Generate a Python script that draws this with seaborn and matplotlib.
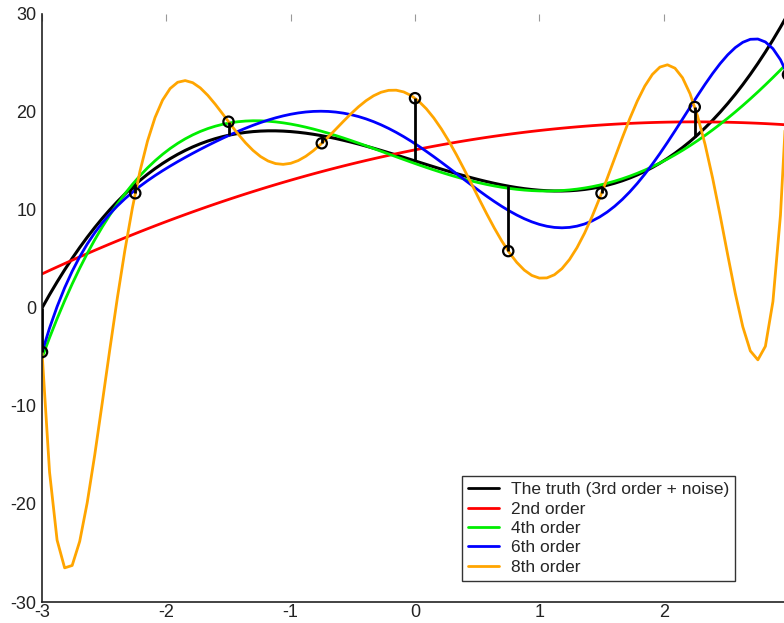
import matplotlib
matplotlib.use("Agg")
import matplotlib.pyplot as plt
import numpy as np
import pandas as pd
import seaborn as sns

# --- values ---
x_pts = [-3.0, -2.25, -1.5, -0.75, 0.0, 0.75, 1.5, 2.25, 3.0]
y_noisy = [-4.5, 11.7, 19.0, 16.8, 21.4, 5.8, 11.7, 20.5, 23.8]      # observed samples
y_truth = [0.0, 12.6, 17.6, 17.6, 15.0, 12.4, 12.4, 17.4, 30.0]      # underlying cubic at the samples

fit_orders = [2, 4, 6, 8]
fit_labels = ["2nd order", "4th order", "6th order", "8th order"]
fit_colors = ["#ff0000", "#00ee00", "#0000ff", "#ffa500"]

x_ticks = [-3, -2, -1, 0, 1, 2, 3]
y_ticks = [-30, -20, -10, 0, 10, 20, 30]

df = pd.DataFrame({"x": x_pts, "y": y_noisy, "truth": y_truth})

sns.set_theme(style="white")
plt.rcParams["font.family"] = ["Liberation Sans", "DejaVu Sans"]
plt.rcParams["axes.unicode_minus"] = False

fig = plt.figure(figsize=(7.84, 6.23), dpi=100)
ax = fig.add_axes([0.0536, 0.0337, 0.9515, 0.944])

handles = []
# truth curve (3rd order through the true values)
sns.regplot(data=df, x="x", y="truth", order=3, ci=None, scatter=False, ax=ax,
            line_kws={"color": "black", "lw": 2.2})
ax.lines[-1].set_label("The truth (3rd order + noise)")
handles.append(ax.lines[-1])

# polynomial fits to the noisy samples
for k, lab, col in zip(fit_orders, fit_labels, fit_colors):
    sns.regplot(data=df, x="x", y="y", order=k, ci=None, scatter=False, ax=ax,
                line_kws={"color": col, "lw": 2.0})
    ax.lines[-1].set_label(lab)
    handles.append(ax.lines[-1])

# residual sticks and sample markers
ax.vlines(df["x"], df["truth"], df["y"], colors="black", lw=2.0, zorder=4)
sns.scatterplot(data=df, x="x", y="y", ax=ax, marker="o", s=55,
                facecolor="none", edgecolor="black", linewidth=1.6, zorder=5, legend=False)

ax.set_xlim(-3, 3)
ax.set_ylim(-30, 30)
ax.set_xticks(x_ticks)
ax.set_yticks(y_ticks)
ax.set_xlabel("")
ax.set_ylabel("")
for s in ["top", "right"]:
    ax.spines[s].set_visible(False)
for s in ["left", "bottom"]:
    ax.spines[s].set_color("#222222")
    ax.spines[s].set_linewidth(1.2)
ax.tick_params(axis="both", direction="in", length=5, width=0.8, color="#999999",
               labelsize=13, labelcolor="#222222")
ax.tick_params(axis="x", top=True, pad=1.5)
ax.tick_params(axis="y", pad=4)

leg = ax.legend(handles=handles, loc="lower left", bbox_to_anchor=(0.563, 0.036), fontsize=12.5,
                frameon=True, fancybox=False, edgecolor="#333333", framealpha=1,
                handlelength=1.8, labelspacing=0.24, borderpad=0.35, handletextpad=0.65,
                borderaxespad=0)
leg.get_frame().set_linewidth(1.0)
for h in leg.get_lines():
    h.set_linewidth(2.0)

fig.savefig("out.png", dpi=100)
